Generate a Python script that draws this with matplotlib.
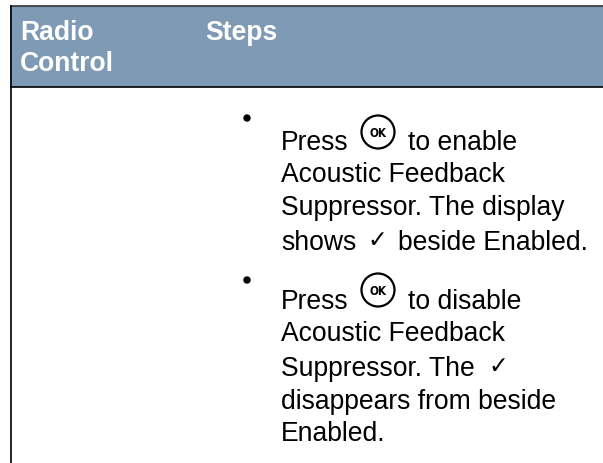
import matplotlib
matplotlib.use("Agg")
import matplotlib.pyplot as plt
from matplotlib.patches import Circle, Rectangle

W, H = 603, 464
HEADER_COLOR = "#7f9ab5"
FONT = "Liberation Sans"
SIZE = 19.1

header_left = ["Radio", "Control"]
header_right = "Steps"
bullet_rows = [119, 281]

# (x, baseline y, text) in image pixels
body_lines = [
    (281, 150.5, "Press"),
    (408, 150.5, "to enable"),
    (281, 182.5, "Acoustic Feedback"),
    (281, 215, "Suppressor. The display"),
    (281, 250.5, "shows"),
    (397.5, 250.5, "beside Enabled."),
    (281, 309.5, "Press"),
    (408, 309.5, "to disable"),
    (281, 341.5, "Acoustic Feedback"),
    (281, 376.5, "Suppressor. The"),
    (281, 409, "disappears from beside"),
    (281, 441.5, "Enabled."),
]
ok_icons = [(378, 133), (378, 291)]
checks = [(377, 247), (498, 373)]

fig = plt.figure(figsize=(W / 100, H / 100), dpi=100)
ax = fig.add_axes([0, 0, 1, 1])
ax.set_xlim(0, W)
ax.set_ylim(H, 0)
ax.axis("off")

# header band and rules
ax.add_patch(Rectangle((10, 7), W - 10, 81, facecolor=HEADER_COLOR, edgecolor="none"))
ax.plot([10, W], [6.5, 6.5], color="#333333", lw=1.2, solid_capstyle="butt")
ax.plot([10, W], [88, 88], color="black", lw=1.2, solid_capstyle="butt")
ax.plot([10.5, 10.5], [6, H], color="black", lw=1.2, solid_capstyle="butt")

for y, s in zip([39.5, 71], header_left):
    ax.text(20, y, s, color="white", fontsize=SIZE, fontweight="bold", family=FONT, va="baseline")
ax.text(205, 39.5, header_right, color="white", fontsize=SIZE, fontweight="bold", family=FONT, va="baseline")

for y in bullet_rows:
    ax.add_patch(Circle((247, y), 3, color="black"))

for x, y, s in body_lines:
    ax.text(x, y, s, color="black", fontsize=SIZE, family=FONT, va="baseline")

for cx, cy in ok_icons:
    ax.add_patch(Circle((cx, cy), 16.5, facecolor="none", edgecolor="black", lw=1.6))
    ax.text(cx, cy + 0.5, "OK", color="black", fontsize=8.5, fontweight="bold", family="DejaVu Sans",
            stretch="condensed", ha="center", va="center")

for x, y in checks:
    ax.text(x, y, "\u2713", color="black", fontsize=17, family="DejaVu Sans", ha="center", va="baseline")

fig.savefig("out.png", dpi=100)
